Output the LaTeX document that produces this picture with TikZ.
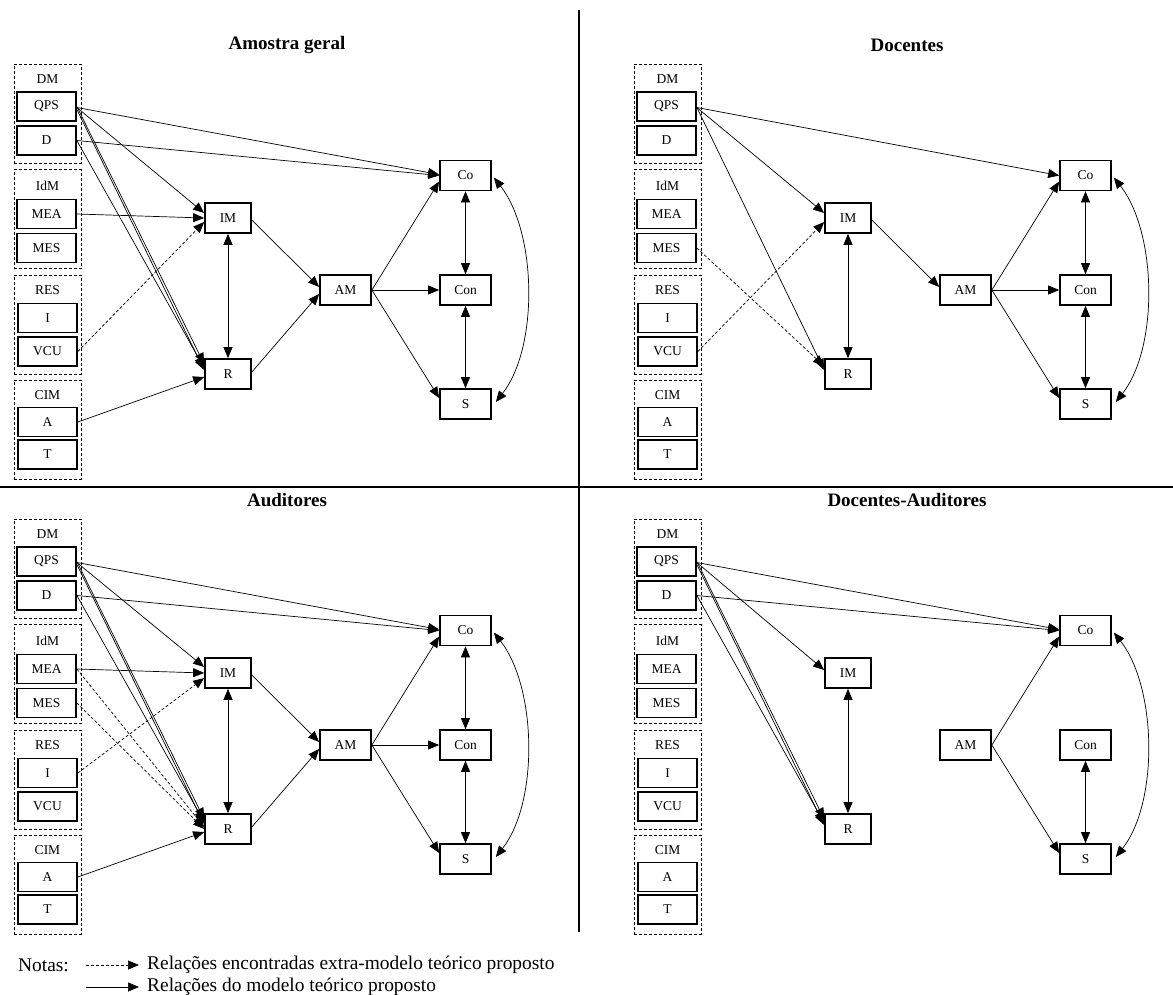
\documentclass[tikz,border=0pt]{standalone}
\usepackage{fontspec}
\setmainfont{Liberation Serif}
\usetikzlibrary{arrows.meta}

\tikzset{
  box/.style={draw, line width=1.7pt, minimum width=59pt, minimum height=29pt,
    inner sep=0pt, font=\fontsize{13.5}{15}\selectfont},
  cbox/.style={box, minimum width=46pt, minimum height=30pt},
  wbox/.style={box, minimum width=51pt, minimum height=30pt},
  grp/.style={draw, dash pattern=on 3pt off 2pt, line width=0.7pt,
    minimum width=67pt, minimum height=99pt, inner sep=0pt},
  grplabel/.style={font=\fontsize{13.5}{15}\selectfont, inner sep=0pt},
  paneltitle/.style={font=\bfseries\fontsize{19}{22}\selectfont, inner sep=0pt},
  rel/.style={line width=0.7pt, -{Triangle[length=11pt,width=9pt]}},
  extra/.style={rel, dash pattern=on 3pt off 2pt},
  mutual/.style={line width=0.7pt,
    {Triangle[length=11pt,width=9pt]}-{Triangle[length=11pt,width=9pt]}},
  divider/.style={line width=1.3pt},
  note/.style={font=\fontsize{19.4}{21}\selectfont, inner sep=0pt, anchor=west},
}

% One panel of the model: construct groups on the left, mediators and outcomes
% #1 prefix, #2 x offset, #3 y offset, #4 title
\newcommand\modelpanel[4]{%
  \begin{scope}[shift={(#2,#3)}]
    \node[paneltitle] (#1-title) at (287,45) {#4};
    % DM
    \node[grp] (#1-DMg) at (47.5,113.5) {};
    \node[grplabel] (#1-DMl) at (47.5,79) {DM};
    \node[box] (#1-QPS) at (46.5,106.5) {QPS};
    \node[box] (#1-D) at (46.5,140.5) {D};
    % IdM
    \node[grp] (#1-IdMg) at (47.5,219) {};
    \node[grplabel] (#1-IdMl) at (47.5,186) {IdM};
    \node[box] (#1-MEA) at (46.5,214) {MEA};
    \node[box] (#1-MES) at (46.5,248) {MES};
    % RES
    \node[grp] (#1-RESg) at (47.5,324.5) {};
    \node[grplabel] (#1-RESl) at (47.5,290) {RES};
    \node[box] (#1-I) at (47.5,318) {I};
    \node[box] (#1-VCU) at (47.5,351.5) {VCU};
    % CIM
    \node[grp] (#1-CIMg) at (47.5,429.5) {};
    \node[grplabel] (#1-CIMl) at (47.5,395) {CIM};
    \node[box] (#1-A) at (47.5,422) {A};
    \node[box] (#1-T) at (47.5,454.5) {T};
    % mediators and outcomes
    \node[cbox] (#1-IM) at (228,218) {IM};
    \node[cbox] (#1-R) at (228,374) {R};
    \node[wbox] (#1-AM) at (345.5,290) {AM};
    \node[wbox] (#1-Co) at (465.5,175.5) {Co};
    \node[wbox] (#1-Con) at (465.5,290) {Con};
    \node[wbox] (#1-S) at (465.5,404) {S};
  \end{scope}}

% Curved two-way link between Co and S
\newcommand\coslink[1]{%
  \draw[mutual] ([shift={(2,2)}]#1-Co.east) .. controls +(43,55) and +(43,-55)
    .. ([shift={(4,-2)}]#1-S.east);}

\begin{document}
\begin{tikzpicture}[x=1pt,y=-1pt]
\useasboundingbox (0,0) rectangle (1173,994);

% quadrant dividers
\coordinate (vtop) at (579,10);
\coordinate (vbot) at (579,932);
\coordinate (hl) at (0,487);
\coordinate (hr) at (1173,487);
\draw[divider] (vtop) -- (vbot);
\draw[divider] (hl) -- (hr);

\modelpanel{a}{0}{0}{Amostra geral}
\modelpanel{b}{620}{0}{Docentes}
\modelpanel{c}{0}{455}{Auditores}
\modelpanel{d}{620}{455}{Docentes-Auditores}

% ---- Amostra geral
\draw[rel] ([shift={(0,1)}]a-QPS.east) -- ([shift={(0,-1)}]a-Co.west);
\draw[rel] (a-D.east) -- (a-Co.west);
\draw[rel] ([shift={(0,1)}]a-QPS.east) -- ([shift={(0,-5)}]a-IM.west);
\draw[rel] ([shift={(0,0)}]a-QPS.east) -- ([shift={(0,-10)}]a-R.west);
\draw[rel] ([shift={(0,3)}]a-QPS.east) -- ([shift={(0,-4)}]a-R.west);
\draw[rel] (a-D.east) -- ([shift={(0,-6)}]a-R.west);
\draw[rel] (a-MEA.east) -- (a-IM.west);
\draw[extra] (a-VCU.east) -- ([shift={(0,4)}]a-IM.west);
\draw[rel] (a-A.east) -- ([shift={(0,3)}]a-R.west);
\draw[mutual] (a-IM.south) -- (a-R.north);
\draw[rel] ([shift={(0,2)}]a-IM.east) -- ([shift={(0,-3)}]a-AM.west);
\draw[rel] ([shift={(0,-2)}]a-R.east) -- ([shift={(0,4)}]a-AM.west);
\draw[rel] (a-AM.east) -- ([shift={(0,6)}]a-Co.west);
\draw[rel] (a-AM.east) -- (a-Con.west);
\draw[rel] (a-AM.east) -- ([shift={(0,-6)}]a-S.west);
\draw[mutual] (a-Co.south) -- (a-Con.north);
\draw[mutual] (a-Con.south) -- (a-S.north);
\coslink{a}

% ---- Docentes
\draw[rel] ([shift={(0,1)}]b-QPS.east) -- (b-Co.west);
\draw[rel] ([shift={(0,1)}]b-QPS.east) -- ([shift={(0,-5)}]b-IM.west);
\draw[rel] ([shift={(0,1)}]b-QPS.east) -- ([shift={(0,-4)}]b-R.west);
\draw[extra] (b-MES.east) -- ([shift={(0,-8)}]b-R.west);
\draw[extra] (b-VCU.east) -- ([shift={(0,4)}]b-IM.west);
\draw[mutual] (b-IM.south) -- (b-R.north);
\draw[rel] ([shift={(0,2)}]b-IM.east) -- ([shift={(0,-3)}]b-AM.west);
\draw[rel] (b-AM.east) -- ([shift={(0,6)}]b-Co.west);
\draw[rel] (b-AM.east) -- (b-Con.west);
\draw[rel] (b-AM.east) -- ([shift={(0,-6)}]b-S.west);
\draw[mutual] (b-Co.south) -- (b-Con.north);
\draw[mutual] (b-Con.south) -- (b-S.north);
\coslink{b}

% ---- Auditores
\draw[rel] ([shift={(0,1)}]c-QPS.east) -- ([shift={(0,-1)}]c-Co.west);
\draw[rel] (c-D.east) -- (c-Co.west);
\draw[rel] ([shift={(0,1)}]c-QPS.east) -- ([shift={(0,-6)}]c-IM.west);
\draw[rel] ([shift={(0,0)}]c-QPS.east) -- ([shift={(0,-10)}]c-R.west);
\draw[rel] ([shift={(0,3)}]c-QPS.east) -- ([shift={(0,-5)}]c-R.west);
\draw[rel] (c-D.east) -- ([shift={(0,-7)}]c-R.west);
\draw[rel] (c-MEA.east) -- (c-IM.west);
\draw[extra] (c-MEA.east) -- ([shift={(0,-2)}]c-R.west);
\draw[extra] (c-MES.east) -- ([shift={(0,0)}]c-R.west);
\draw[extra] (c-I.east) -- ([shift={(0,5)}]c-IM.west);
\draw[rel] (c-A.east) -- ([shift={(0,3)}]c-R.west);
\draw[mutual] (c-IM.south) -- (c-R.north);
\draw[rel] ([shift={(0,2)}]c-IM.east) -- ([shift={(0,-3)}]c-AM.west);
\draw[rel] ([shift={(0,-2)}]c-R.east) -- ([shift={(0,4)}]c-AM.west);
\draw[rel] (c-AM.east) -- ([shift={(0,6)}]c-Co.west);
\draw[rel] (c-AM.east) -- (c-Con.west);
\draw[rel] (c-AM.east) -- ([shift={(0,-6)}]c-S.west);
\draw[mutual] (c-Co.south) -- (c-Con.north);
\draw[mutual] (c-Con.south) -- (c-S.north);
\coslink{c}

% ---- Docentes-Auditores
\draw[rel] ([shift={(0,1)}]d-QPS.east) -- ([shift={(0,-1)}]d-Co.west);
\draw[rel] (d-D.east) -- (d-Co.west);
\draw[rel] ([shift={(0,1)}]d-QPS.east) -- ([shift={(0,-3)}]d-IM.west);
\draw[rel] ([shift={(0,0)}]d-QPS.east) -- ([shift={(0,-10)}]d-R.west);
\draw[rel] ([shift={(0,3)}]d-QPS.east) -- ([shift={(0,-4)}]d-R.west);
\draw[rel] (d-D.east) -- ([shift={(0,-6)}]d-R.west);
\draw[mutual] (d-IM.south) -- (d-R.north);
\draw[rel] (d-AM.east) -- ([shift={(0,6)}]d-Co.west);
\draw[rel] (d-AM.east) -- ([shift={(0,-6)}]d-S.west);
\draw[mutual] (d-Con.south) -- (d-S.north);
\coslink{d}

% ---- notes
\node[note] (notas) at (18,965) {Notas:};
\coordinate (k1s) at (86,965);
\coordinate (k1e) at (139,965);
\coordinate (k2s) at (86,987);
\coordinate (k2e) at (139,987);
\draw[extra] (k1s) -- (k1e);
\draw[rel] (k2s) -- (k2e);
\node[note] (note1) at (147,965) {Relações encontradas extra-modelo teórico proposto};
\node[note] (note2) at (147,987) {Relações do modelo teórico proposto};
\end{tikzpicture}
\end{document}
